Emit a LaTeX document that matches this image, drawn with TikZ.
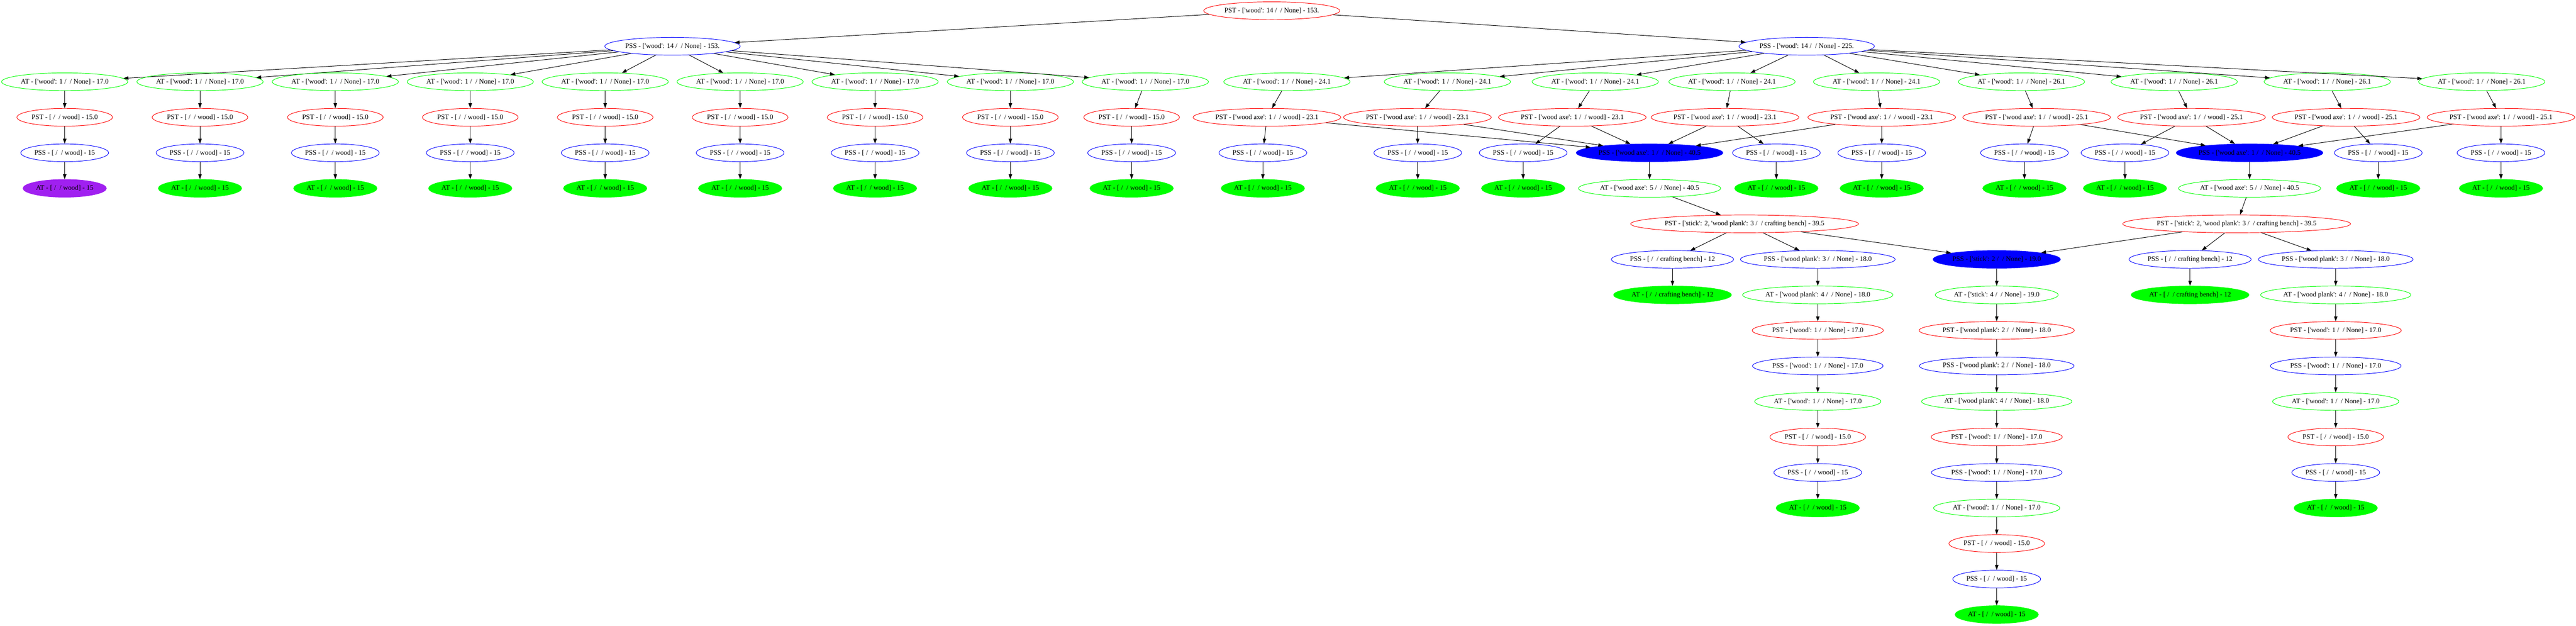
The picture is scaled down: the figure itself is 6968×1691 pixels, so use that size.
\documentclass[tikz,border=0pt]{standalone}
\usepackage{fontspec}
\setmainfont{Liberation Serif}[Ligatures=TeXOff]
\usetikzlibrary{shapes.geometric,arrows.meta}
\definecolor{gvgreen}{HTML}{00FF00}
\definecolor{gvpurple}{HTML}{A020F0}
\newcommand{\dsl}{/\ \ /}
\tikzset{
  nd/.style={ellipse, inner xsep=1.5pt, inner ysep=2pt, minimum height=36pt, line width=1pt, font=\fontsize{14}{16}\selectfont},
  gr/.style={nd, draw=gvgreen},
  rd/.style={nd, draw=red},
  bl/.style={nd, draw=blue},
  gf/.style={nd, draw=gvgreen, fill=gvgreen},
  bf/.style={nd, draw=blue, fill=blue},
  pf/.style={nd, draw=gvpurple, fill=gvpurple},
  ed/.style={-{Triangle[length=10pt,width=7pt]}, line width=1pt, black}
}
\begin{document}
\begin{tikzpicture}[x=0.75pt,y=-0.75pt]
\useasboundingbox (0,0) rectangle (6968,1691);
% top
\node[rd] (root) at (3440,29) {PST - ['wood': 14 \dsl{} None] - 153.};
\node[bl] (pl) at (1819,125) {PSS - ['wood': 14 \dsl{} None] - 153.};
\node[bl] (pr) at (4887,125) {PSS - ['wood': 14 \dsl{} None] - 225.};
\draw[ed] (root) -- (pl);
\draw[ed] (root) -- (pr);
% left branch
\foreach \i/\x/\xb/\st in {1/175/175/pf, 2/541/541/gf, 3/907/907/gf, 4/1272/1272/gf, 5/1637/1637/gf, 6/2002/2002/gf, 7/2367/2367/gf, 8/2733/2733/gf, 9/3098/3061/gf}{
  \node[gr] (la\i) at (\x,221) {AT - ['wood': 1 \dsl{} None] - 17.0};
  \node[rd] (lb\i) at (\xb,317) {PST - [ \dsl{} wood] - 15.0};
  \node[bl] (lc\i) at (\xb,413) {PSS - [ \dsl{} wood] - 15};
  \node[\st] (ld\i) at (\xb,509) {AT - [ \dsl{} wood] - 15};
  \draw[ed] (pl) -- (la\i);
  \draw[ed] (la\i) -- (lb\i);
  \draw[ed] (lb\i) -- (lc\i);
  \draw[ed] (lc\i) -- (ld\i);
}
% right branch
\node[bf] (b1) at (4462,413) {PSS - ['wood axe': 1 \dsl{} None] - 40.5};
\node[bf] (b2) at (6085,413) {PSS - ['wood axe': 1 \dsl{} None] - 40.5};
\node[gr] (a1) at (4462,509) {AT - ['wood axe': 5 \dsl{} None] - 40.5};
\node[gr] (a2) at (6085,509) {AT - ['wood axe': 5 \dsl{} None] - 40.5};
\foreach \i/\xa/\xp/\xs/\va/\vp/\bb in {1/3481/3427/3416/24.1/23.1/b1, 2/3915/3834/3835/24.1/23.1/b1, 3/4315/4253/4120/24.1/23.1/b1, 4/4685/4666/4805/24.1/23.1/b1, 5/5076/5090/5090/24.1/23.1/b1, 6/5468/5509/5476/26.1/25.1/b2, 7/5881/5928/5748/26.1/25.1/b2, 8/6295/6346/6433/26.1/25.1/b2, 9/6713/6765/6765/26.1/25.1/b2}{
  \node[gr] (ra\i) at (\xa,221) {AT - ['wood': 1 \dsl{} None] - \va};
  \node[rd] (rb\i) at (\xp,317) {PST - ['wood axe': 1 \dsl{} wood] - \vp};
  \node[bl] (rc\i) at (\xs,413) {PSS - [ \dsl{} wood] - 15};
  \node[gf] (rd\i) at (\xs,509) {AT - [ \dsl{} wood] - 15};
  \draw[ed] (pr) -- (ra\i);
  \draw[ed] (ra\i) -- (rb\i);
  \draw[ed] (rb\i) -- (rc\i);
  \draw[ed] (rb\i) -- (\bb);
  \draw[ed] (rc\i) -- (rd\i);
}
\draw[ed] (b1) -- (a1);
\draw[ed] (b2) -- (a2);
% crafting level
\node[rd] (s1) at (4719,605) {PST - ['stick': 2, 'wood plank': 3 \dsl{} crafting bench] - 39.5};
\node[rd] (s2) at (6050,605) {PST - ['stick': 2, 'wood plank': 3 \dsl{} crafting bench] - 39.5};
\draw[ed] (a1) -- (s1);
\draw[ed] (a2) -- (s2);
\node[bl] (c1) at (4524,701) {PSS - [ \dsl{} crafting bench] - 12};
\node[bl] (q1) at (4917,701) {PSS - ['wood plank': 3 \dsl{} None] - 18.0};
\node[bf] (bs) at (5401,701) {PSS - ['stick': 2 \dsl{} None] - 19.0};
\node[bl] (c2) at (5924,701) {PSS - [ \dsl{} crafting bench] - 12};
\node[bl] (q2) at (6318,701) {PSS - ['wood plank': 3 \dsl{} None] - 18.0};
\draw[ed] (s1) -- (c1);
\draw[ed] (s1) -- (q1);
\draw[ed] (s1) -- (bs);
\draw[ed] (s2) -- (bs);
\draw[ed] (s2) -- (c2);
\draw[ed] (s2) -- (q2);
\node[gf] (c1a) at (4524,797) {AT - [ \dsl{} crafting bench] - 12};
\node[gf] (c2a) at (5924,797) {AT - [ \dsl{} crafting bench] - 12};
\draw[ed] (c1) -- (c1a);
\draw[ed] (c2) -- (c2a);
% plank columns
\foreach \j/\x in {1/4917, 2/6318}{
  \node[gr] (q\j a) at (\x,797) {AT - ['wood plank': 4 \dsl{} None] - 18.0};
  \node[rd] (q\j b) at (\x,893) {PST - ['wood': 1 \dsl{} None] - 17.0};
  \node[bl] (q\j c) at (\x,989) {PSS - ['wood': 1 \dsl{} None] - 17.0};
  \node[gr] (q\j d) at (\x,1085) {AT - ['wood': 1 \dsl{} None] - 17.0};
  \node[rd] (q\j e) at (\x,1181) {PST - [ \dsl{} wood] - 15.0};
  \node[bl] (q\j f) at (\x,1277) {PSS - [ \dsl{} wood] - 15};
  \node[gf] (q\j g) at (\x,1373) {AT - [ \dsl{} wood] - 15};
  \draw[ed] (q\j) -- (q\j a);
  \draw[ed] (q\j a) -- (q\j b);
  \draw[ed] (q\j b) -- (q\j c);
  \draw[ed] (q\j c) -- (q\j d);
  \draw[ed] (q\j d) -- (q\j e);
  \draw[ed] (q\j e) -- (q\j f);
  \draw[ed] (q\j f) -- (q\j g);
}
% stick column
\node[gr] (t1) at (5401,797) {AT - ['stick': 4 \dsl{} None] - 19.0};
\node[rd] (t2) at (5401,893) {PST - ['wood plank': 2 \dsl{} None] - 18.0};
\node[bl] (t3) at (5401,989) {PSS - ['wood plank': 2 \dsl{} None] - 18.0};
\node[gr] (t4) at (5401,1085) {AT - ['wood plank': 4 \dsl{} None] - 18.0};
\node[rd] (t5) at (5401,1181) {PST - ['wood': 1 \dsl{} None] - 17.0};
\node[bl] (t6) at (5401,1277) {PSS - ['wood': 1 \dsl{} None] - 17.0};
\node[gr] (t7) at (5401,1373) {AT - ['wood': 1 \dsl{} None] - 17.0};
\node[rd] (t8) at (5401,1469) {PST - [ \dsl{} wood] - 15.0};
\node[bl] (t9) at (5401,1565) {PSS - [ \dsl{} wood] - 15};
\node[gf] (t10) at (5401,1661) {AT - [ \dsl{} wood] - 15};
\draw[ed] (bs) -- (t1);
\draw[ed] (t1) -- (t2);
\draw[ed] (t2) -- (t3);
\draw[ed] (t3) -- (t4);
\draw[ed] (t4) -- (t5);
\draw[ed] (t5) -- (t6);
\draw[ed] (t6) -- (t7);
\draw[ed] (t7) -- (t8);
\draw[ed] (t8) -- (t9);
\draw[ed] (t9) -- (t10);
\end{tikzpicture}
\end{document}
